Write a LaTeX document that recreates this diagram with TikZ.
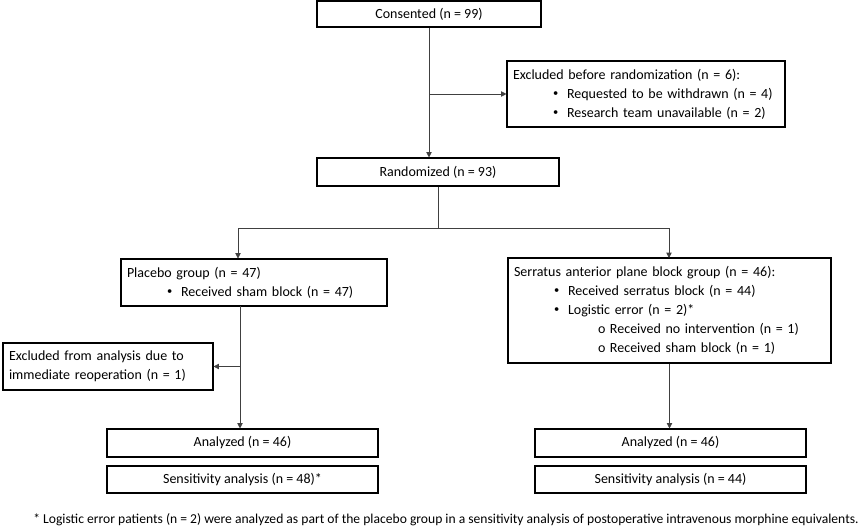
\documentclass[tikz,border=0pt]{standalone}
\usepackage{fontspec}
\setmainfont{Carlito}
\usetikzlibrary{arrows.meta}
\tikzstyle{box}=[draw,line width=0.8pt,rectangle,inner sep=0pt,align=center,font=\fontsize{10.5}{14.25}\selectfont]
\tikzstyle{listbox}=[box,inner xsep=4.5pt,align=left]
\tikzstyle{link}=[draw=black!75,line width=0.6pt]
\tikzstyle{arrow}=[link,-{Triangle[length=4pt,width=4pt]}]
\newcommand{\itm}[1]{\hspace*{30pt}\makebox[10.5pt][l]{\raisebox{0.13em}{\scalebox{0.75}{\textbullet}}}#1}
\newcommand{\subitm}[1]{\hspace*{63pt}\makebox[9pt][l]{o}#1}

\begin{document}
\begin{tikzpicture}[x=0.75pt,y=-0.75pt]
\useasboundingbox (0,0) rectangle (865,530);

\node[box,minimum width=168pt,minimum height=19.5pt] (consent) at (429,14) {Consented (n = 99)};
\node[listbox,text width=199.5pt,minimum height=49.5pt] (excl) at (646,94)
  {Excluded before randomization (n = 6):\\
   \itm{Requested to be withdrawn (n = 4)}\\
   \itm{Research team unavailable (n = 2)}};
\node[box,minimum width=181.5pt,minimum height=21pt] (rand) at (438,172) {Randomized (n = 93)};

\node[listbox,text width=190.5pt,minimum height=35.25pt] (placebo) at (254,282.5)
  {Placebo group (n = 47)\\
   \itm{Received sham block (n = 47)}};
\node[listbox,text width=233.25pt,minimum height=78.75pt] (serratus) at (669.5,310.5)
  {Serratus anterior plane block group (n = 46):\\
   \itm{Received serratus block (n = 44)}\\
   \itm{Logistic error (n = 2)*}\\
   \subitm{Received no intervention (n = 1)}\\
   \subitm{Received sham block (n = 1)}};
\node[listbox,text width=148.5pt,minimum height=35.25pt] (exana) at (108,366.5)
  {Excluded from analysis due to\\immediate reoperation (n = 1)};

\node[box,minimum width=203.25pt,minimum height=21pt] (anaL) at (242.5,443) {Analyzed (n = 46)};
\node[box,minimum width=203.25pt,minimum height=20.25pt] (sensL) at (242.5,479.5) {Sensitivity analysis (n = 48)*};
\node[box,minimum width=203.25pt,minimum height=21pt] (anaR) at (670.5,443) {Analyzed (n = 46)};
\node[box,minimum width=203.25pt,minimum height=20.25pt] (sensR) at (670.5,479.5) {Sensitivity analysis (n = 44)};

\node[font=\fontsize{10.2}{12}\selectfont] (note) at (446,520)
  {* Logistic error patients (n = 2) were analyzed as part of the placebo group in a sensitivity analysis of postoperative intravenous morphine equivalents.};

% connectors
\coordinate (split) at (438,228);
\coordinate (inL) at (238,258.5);
\coordinate (inR) at (669,258);
\coordinate (outL) at (240,306);

\draw[arrow] (consent.south) -- (consent.south |- rand.north);
\draw[arrow] (consent.south |- excl.west) -- (excl.west);
\draw[link] (rand.south) -- (split);
\draw[arrow] (split) -| (inL);
\draw[arrow] (split) -| (inR);
\draw[arrow] (outL) -- (outL |- anaL.north);
\draw[arrow] (outL |- exana.east) -- (exana.east);
\draw[arrow] (serratus.south) -- (serratus.south |- anaR.north);

\end{tikzpicture}
\end{document}
